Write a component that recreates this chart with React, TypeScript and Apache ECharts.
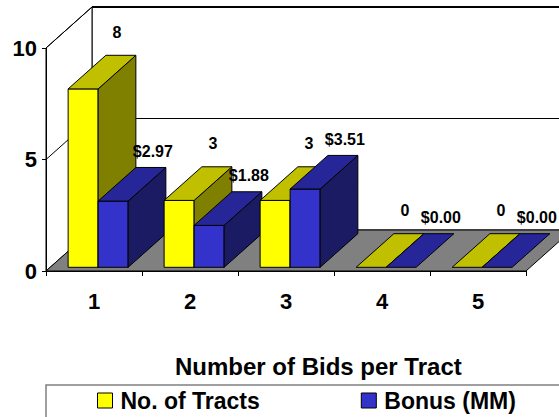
import React, { useEffect, useRef } from "react";
import * as echarts from "echarts";

const categories = ["1", "2", "3", "4", "5"];
const tracts = [8, 3, 3, 0, 0];
const bonus = [2.97, 1.88, 3.51, 0, 0];
const seriesNames = ["No. of Tracts", "Bonus (MM)"];
const yMin = 0;
const yMax = 10;
const yStep = 5;

const FONT = '"Liberation Sans", Arial, sans-serif';
const DX = 46;
const DY = -41;
const F0 = 0.09;
const F1 = 0.91;
const BAR_START = 0.1875;
const BAR_W = 0.3125;

const palettes = [
  { front: "#FFFF00", top: "#C0C000", side: "#808000", lx: -4, ly: -23 },
  { front: "#3333CC", top: "#262699", side: "#1B1B63", lx: 2, ly: -16 },
];

function wallsRender(params: any, api: any) {
  const p0 = api.coord([0, yMin]);
  const bw = api.size([1, 0])[0];
  const xL = p0[0] - bw / 2;
  const xR = xL + bw * categories.length;
  const y0 = p0[1];
  const yT = api.coord([0, yMax])[1];
  const line = { stroke: "#000", lineWidth: 1 };
  const children: any[] = [
    {
      type: "polygon",
      shape: { points: [[xL + DX, yT + DY], [xR + DX + 20, yT + DY], [xR + DX + 20, y0 + DY], [xL + DX, y0 + DY]] },
      style: { fill: "#fff", stroke: "#000", lineWidth: 1 },
    },
    {
      type: "polygon",
      shape: { points: [[xL, y0], [xL, yT], [xL + DX, yT + DY], [xL + DX, y0 + DY]] },
      style: { fill: "#fff", stroke: "#000", lineWidth: 1 },
    },
    {
      type: "polygon",
      shape: { points: [[xL, y0], [xL + DX, y0 + DY], [xR + DX, y0 + DY], [xR, y0]] },
      style: { fill: "#808080", stroke: "#000", lineWidth: 1 },
    },
  ];
  for (let v = yMin + yStep; v <= yMax; v += yStep) {
    const y = api.coord([0, v])[1];
    children.push({ type: "line", shape: { x1: xL, y1: y, x2: xL + DX, y2: y + DY }, style: line });
    children.push({
      type: "line",
      shape: { x1: xL + DX, y1: y + DY, x2: xR + DX + 20, y2: y + DY },
      style: { stroke: "#000", lineWidth: v === yMax ? 1.8 : 1 },
    });
  }
  return { type: "group", children };
}

function makeBarRender(s: number, fmt: (v: number) => string) {
  const pal = palettes[s];
  return function (params: any, api: any) {
    const i = api.value(0);
    const v = api.value(1);
    const c = api.coord([i, 0]);
    const bw = api.size([1, 0])[0];
    const catStart = c[0] - bw / 2;
    const x0 = catStart + bw * (BAR_START + s * BAR_W) + DX * F0;
    const x1 = x0 + bw * BAR_W;
    const yBase = c[1] + DY * F0;
    const yTop = api.coord([i, v])[1] + DY * F0;
    const bdx = DX * (F1 - F0);
    const bdy = DY * (F1 - F0);
    const base = i * 10 + s * 5;
    const edge = { stroke: "#000", lineWidth: 1, lineJoin: "round" };
    const children: any[] = [];
    if (yBase - yTop > 0.5) {
      children.push({
        type: "polygon",
        z2: base + 1,
        shape: { points: [[x0, yTop], [x1, yTop], [x1, yBase], [x0, yBase]] },
        style: { fill: pal.front, ...edge },
      });
      children.push({
        type: "polygon",
        z2: base + 2,
        shape: { points: [[x1, yTop], [x1 + bdx, yTop + bdy], [x1 + bdx, yBase + bdy], [x1, yBase]] },
        style: { fill: pal.side, ...edge },
      });
    }
    children.push({
      type: "polygon",
      z2: base + 3,
      shape: { points: [[x0, yTop], [x0 + bdx, yTop + bdy], [x1 + bdx, yTop + bdy], [x1, yTop]] },
      style: { fill: pal.top, ...edge },
    });
    children.push({
      type: "text",
      z2: 1000,
      x: (x0 + x1) / 2 + bdx + pal.lx,
      y: yTop + bdy + pal.ly,
      style: {
        text: fmt(v),
        fill: "#000",
        font: 'bold 16px "Liberation Sans", Arial, sans-serif',
        align: "center",
        verticalAlign: "middle",
      },
    });
    return { type: "group", children };
  };
}

export default function App() {
  const ref = useRef<HTMLDivElement>(null);
  useEffect(() => {
    if (!ref.current) return;
    const chart = echarts.init(ref.current, undefined, { renderer: "svg" });
    chart.setOption({
      animation: false,
      backgroundColor: "#fff",
      grid: { left: 46, right: 33, top: 48, bottom: 146, containLabel: false },
      title: {
        text: "Number of Bids per Tract",
        left: 175,
        top: 354,
        padding: 0,
        textStyle: { fontSize: 24, fontWeight: "bold", fontFamily: FONT, color: "#000" },
      },
      legend: {
        left: 97,
        top: 389,
        padding: 0,
        itemWidth: 15,
        itemHeight: 15,
        itemGap: 101,
        icon: "rect",
        selectedMode: false,
        textStyle: { fontSize: 23, fontWeight: "bold", fontFamily: FONT, color: "#000", padding: [0, 0, 0, 3] },
        data: [
          { name: seriesNames[0], itemStyle: { color: palettes[0].front, borderColor: "#000", borderWidth: 1 } },
          { name: seriesNames[1], itemStyle: { color: palettes[1].front, borderColor: "#000", borderWidth: 1 } },
        ],
      },
      graphic: [
        {
          type: "rect",
          shape: { x: 46, y: 385, width: 600, height: 100 },
          style: { fill: "none", stroke: "#808080", lineWidth: 1.5 },
          z: -1,
        },
      ],
      xAxis: {
        type: "category",
        data: categories,
        z: 5,
        axisLine: { show: true, lineStyle: { color: "#000", width: 1 } },
        axisTick: { show: true, length: 5, lineStyle: { color: "#000" } },
        axisLabel: { margin: 19, fontSize: 22, fontWeight: "bold", fontFamily: FONT, color: "#000" },
        splitLine: { show: false },
      },
      yAxis: {
        type: "value",
        min: yMin,
        max: yMax,
        interval: yStep,
        z: 5,
        axisLine: { show: true, lineStyle: { color: "#000", width: 1 } },
        axisTick: { show: true, length: 4, lineStyle: { color: "#000" } },
        axisLabel: { margin: 9, fontSize: 22, fontWeight: "bold", fontFamily: FONT, color: "#000" },
        splitLine: { show: false },
      },
      series: [
        {
          type: "custom",
          name: "walls",
          z: 1,
          silent: true,
          clip: false,
          renderItem: wallsRender,
          data: [[0, 0]],
          encode: { x: 0, y: 1 },
        },
        {
          type: "custom",
          name: seriesNames[0],
          z: 2,
          clip: false,
          itemStyle: { color: palettes[0].front },
          renderItem: makeBarRender(0, (v) => String(v)),
          data: tracts.map((v, i) => [i, v]),
          encode: { x: 0, y: 1 },
        },
        {
          type: "custom",
          name: seriesNames[1],
          z: 2,
          clip: false,
          itemStyle: { color: palettes[1].front },
          renderItem: makeBarRender(1, (v) => "$" + v.toFixed(2)),
          data: bonus.map((v, i) => [i, v]),
          encode: { x: 0, y: 1 },
        },
      ],
    });
    return () => chart.dispose();
  }, []);
  return (
    <div
      ref={ref}
      style={{ position: "fixed", left: 0, top: 0, width: 559, height: 417, background: "#fff" }}
    />
  );
}
